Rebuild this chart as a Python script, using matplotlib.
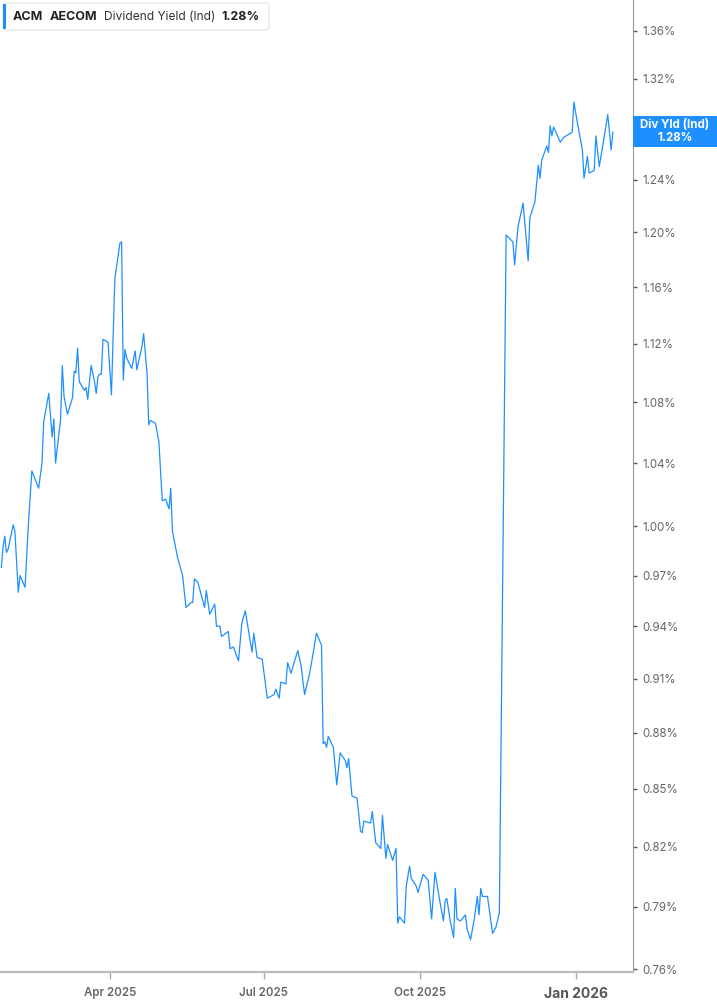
import pandas as pd
import matplotlib.pyplot as plt
from matplotlib.patches import FancyBboxPatch, Rectangle
from matplotlib.ticker import FixedLocator, FuncFormatter, NullLocator

plt.rcParams['font.family'] = ['Inter', 'DejaVu Sans']

# ACM dividend yield (%)
dates = [
    '2025-01-27', '2025-01-28', '2025-01-29', '2025-01-30', '2025-01-31', '2025-02-03', '2025-02-04',
    '2025-02-06', '2025-02-07', '2025-02-10', '2025-02-12', '2025-02-14', '2025-02-18', '2025-02-20',
    '2025-02-21', '2025-02-24', '2025-02-26', '2025-02-27', '2025-02-28', '2025-03-03', '2025-03-04',
    '2025-03-05', '2025-03-07', '2025-03-10', '2025-03-11', '2025-03-12', '2025-03-13', '2025-03-14',
    '2025-03-17', '2025-03-18', '2025-03-19', '2025-03-21', '2025-03-23', '2025-03-24', '2025-03-25',
    '2025-03-26', '2025-03-27', '2025-03-28', '2025-03-31', '2025-04-02', '2025-04-04', '2025-04-07',
    '2025-04-08', '2025-04-09', '2025-04-10', '2025-04-11', '2025-04-14', '2025-04-16', '2025-04-17',
    '2025-04-20', '2025-04-21', '2025-04-23', '2025-04-24', '2025-04-25', '2025-04-28', '2025-04-30',
    '2025-05-02', '2025-05-04', '2025-05-06', '2025-05-07', '2025-05-08', '2025-05-11', '2025-05-14',
    '2025-05-16', '2025-05-19', '2025-05-20', '2025-05-21', '2025-05-23', '2025-05-27', '2025-05-28',
    '2025-05-30', '2025-06-02', '2025-06-03', '2025-06-05', '2025-06-06', '2025-06-10', '2025-06-11',
    '2025-06-13', '2025-06-16', '2025-06-18', '2025-06-20', '2025-06-24', '2025-06-25', '2025-06-27',
    '2025-06-30', '2025-07-03', '2025-07-07', '2025-07-08', '2025-07-10', '2025-07-11', '2025-07-14',
    '2025-07-15', '2025-07-17', '2025-07-21', '2025-07-23', '2025-07-25', '2025-07-28', '2025-07-30',
    '2025-08-01', '2025-08-04', '2025-08-05', '2025-08-06', '2025-08-07', '2025-08-08', '2025-08-11',
    '2025-08-13', '2025-08-15', '2025-08-18', '2025-08-19', '2025-08-20', '2025-08-22', '2025-08-25',
    '2025-08-27', '2025-08-28', '2025-08-29', '2025-09-02', '2025-09-03', '2025-09-05', '2025-09-08',
    '2025-09-09', '2025-09-11', '2025-09-12', '2025-09-15', '2025-09-17', '2025-09-18', '2025-09-19',
    '2025-09-22', '2025-09-23', '2025-09-25', '2025-09-26', '2025-09-29', '2025-09-30', '2025-10-03',
    '2025-10-06', '2025-10-08', '2025-10-10', '2025-10-13', '2025-10-15', '2025-10-16', '2025-10-17',
    '2025-10-19', '2025-10-21', '2025-10-22', '2025-10-23', '2025-10-25', '2025-10-28', '2025-10-29',
    '2025-10-31', '2025-11-02', '2025-11-04', '2025-11-05', '2025-11-06', '2025-11-07', '2025-11-10',
    '2025-11-13', '2025-11-15', '2025-11-17', '2025-11-21', '2025-11-25', '2025-11-26', '2025-11-28',
    '2025-12-01', '2025-12-04', '2025-12-05', '2025-12-08', '2025-12-10', '2025-12-11', '2025-12-12',
    '2025-12-15', '2025-12-16', '2025-12-17', '2025-12-18', '2025-12-19', '2025-12-23', '2025-12-25',
    '2025-12-29', '2025-12-30', '2025-12-31', '2026-01-02', '2026-01-05', '2026-01-06', '2026-01-08',
    '2026-01-09', '2026-01-12', '2026-01-13', '2026-01-15', '2026-01-17', '2026-01-20', '2026-01-22',
    '2026-01-23',
]
yld = [
    0.975, 0.987, 0.994, 0.984, 0.986, 1.001, 0.997,
    0.960, 0.970, 0.963, 1.002, 1.035, 1.024, 1.040,
    1.067, 1.086, 1.057, 1.069, 1.040, 1.069, 1.105,
    1.084, 1.072, 1.083, 1.101, 1.100, 1.117, 1.094,
    1.088, 1.090, 1.082, 1.105, 1.094, 1.086, 1.097,
    1.099, 1.099, 1.123, 1.121, 1.085, 1.166, 1.192,
    1.193, 1.095, 1.116, 1.110, 1.103, 1.115, 1.102,
    1.118, 1.127, 1.100, 1.065, 1.068, 1.066, 1.054,
    1.016, 1.017, 1.011, 1.024, 0.997, 0.981, 0.970,
    0.951, 0.954, 0.954, 0.968, 0.966, 0.951, 0.961,
    0.947, 0.953, 0.940, 0.940, 0.934, 0.937, 0.927,
    0.928, 0.920, 0.942, 0.949, 0.925, 0.936, 0.922,
    0.921, 0.899, 0.901, 0.904, 0.899, 0.908, 0.907,
    0.919, 0.913, 0.926, 0.917, 0.901, 0.913, 0.924,
    0.936, 0.929, 0.874, 0.875, 0.872, 0.878, 0.872,
    0.852, 0.869, 0.865, 0.861, 0.866, 0.846, 0.845,
    0.828, 0.827, 0.833, 0.832, 0.838, 0.822, 0.819,
    0.836, 0.814, 0.821, 0.813, 0.819, 0.782, 0.785,
    0.782, 0.800, 0.810, 0.804, 0.800, 0.797, 0.806,
    0.803, 0.784, 0.807, 0.792, 0.783, 0.793, 0.794,
    0.783, 0.775, 0.799, 0.784, 0.783, 0.786, 0.779,
    0.774, 0.783, 0.795, 0.786, 0.799, 0.795, 0.795,
    0.777, 0.780, 0.787, 1.198, 1.193, 1.176, 1.204,
    1.222, 1.179, 1.211, 1.223, 1.251, 1.241, 1.255,
    1.266, 1.261, 1.282, 1.274, 1.281, 1.269, 1.273,
    1.276, 1.277, 1.301, 1.285, 1.263, 1.241, 1.258,
    1.245, 1.247, 1.274, 1.250, 1.266, 1.291, 1.263,
    1.277,
]
ytick_vals = [0.76, 0.79, 0.82, 0.85, 0.88, 0.91, 0.94, 0.97, 1.00, 1.04,
              1.08, 1.12, 1.16, 1.20, 1.24, 1.28, 1.32, 1.36]
xtick_dates = ['2025-04-01', '2025-07-01', '2025-10-01', '2026-01-01']
xtick_labels = ['Apr 2025', 'Jul 2025', 'Oct 2025', 'Jan 2026']
last_val = yld[-1]

blue = '#1e8fff'
grey = '#666666'

fig = plt.figure(figsize=(7.17, 10.05), dpi=100)
ax = fig.add_axes([0.0, 0.0328, 0.8824, 0.9672])

x = pd.to_datetime(dates)
ax.plot(x, yld, color=blue, lw=0.9)

ax.set_yscale('log')
ax.set_ylim(0.7586, 1.386)
ax.set_xlim(pd.Timestamp('2025-01-26 05:00'), pd.Timestamp('2026-02-03 17:00'))


# the 1.28% label sits under the value tag, so leave it blank
def pct(v, p):
    if abs(v - round(last_val, 2)) < 1e-6:
        return ''
    return '%.2f%%' % v


ax.yaxis.tick_right()
ax.yaxis.set_major_locator(FixedLocator(ytick_vals))
ax.yaxis.set_minor_locator(NullLocator())
ax.yaxis.set_major_formatter(FuncFormatter(pct))
ax.tick_params(axis='y', direction='out', length=3, width=1, color='#555555',
               labelsize=8.3, labelcolor=grey, pad=4)

ax.set_xticks(pd.to_datetime(xtick_dates))
ax.set_xticklabels(xtick_labels)
ax.tick_params(axis='x', direction='out', length=5, width=1, color='#aaaaaa',
               labelsize=8.3, labelcolor=grey, pad=6)
for lab in ax.get_xticklabels():
    lab.set_fontweight('semibold')
    if lab.get_text().startswith('Jan'):
        lab.set_fontsize(10)
        lab.set_fontweight('bold')
        lab.set_color('#555555')

for s in ['top', 'left']:
    ax.spines[s].set_visible(False)
ax.spines['right'].set_color('#999999')
ax.spines['bottom'].set_color('#bbbbbb')
ax.spines['bottom'].set_linewidth(1.6)

# legend box top-left
fig.patches.append(FancyBboxPatch((3 / 717, 1 - 30 / 1005), 266 / 717, 27 / 1005,
                                  boxstyle='round,pad=0,rounding_size=0.004',
                                  transform=fig.transFigure, facecolor='white',
                                  edgecolor='#e4e4e4', lw=0.8, zorder=5))
fig.patches.append(Rectangle((3 / 717, 1 - 29 / 1005), 3 / 717, 25 / 1005,
                             transform=fig.transFigure, facecolor=blue,
                             edgecolor='none', zorder=6))
ty = 1 - 17 / 1005
fig.text(13 / 717, ty, 'ACM', fontsize=9, fontweight='bold', color='#222222', va='center', zorder=7)
fig.text(50 / 717, ty, 'AECOM', fontsize=9, fontweight='bold', color='#222222', va='center', zorder=7)
fig.text(104 / 717, ty, 'Dividend Yield (Ind)', fontsize=8.6, color='#333333', va='center', zorder=7)
fig.text(221 / 717, ty, '%.2f%%' % last_val, fontsize=9, fontweight='bold', color='#222222',
         va='center', zorder=7)

# current value tag on right axis
fig.patches.append(Rectangle((633 / 717, 1 - 147 / 1005), 84 / 717, 31 / 1005,
                             transform=fig.transFigure, facecolor=blue,
                             edgecolor='none', zorder=6))
fig.text(675 / 717, 1 - 125 / 1005, 'Div Yld (Ind)', fontsize=8.3, fontweight='bold',
         color='white', ha='center', va='center', zorder=7)
fig.text(675 / 717, 1 - 138 / 1005, '%.2f%%' % last_val, fontsize=8.3, fontweight='bold',
         color='white', ha='center', va='center', zorder=7)

fig.savefig('out.png', dpi=100)
